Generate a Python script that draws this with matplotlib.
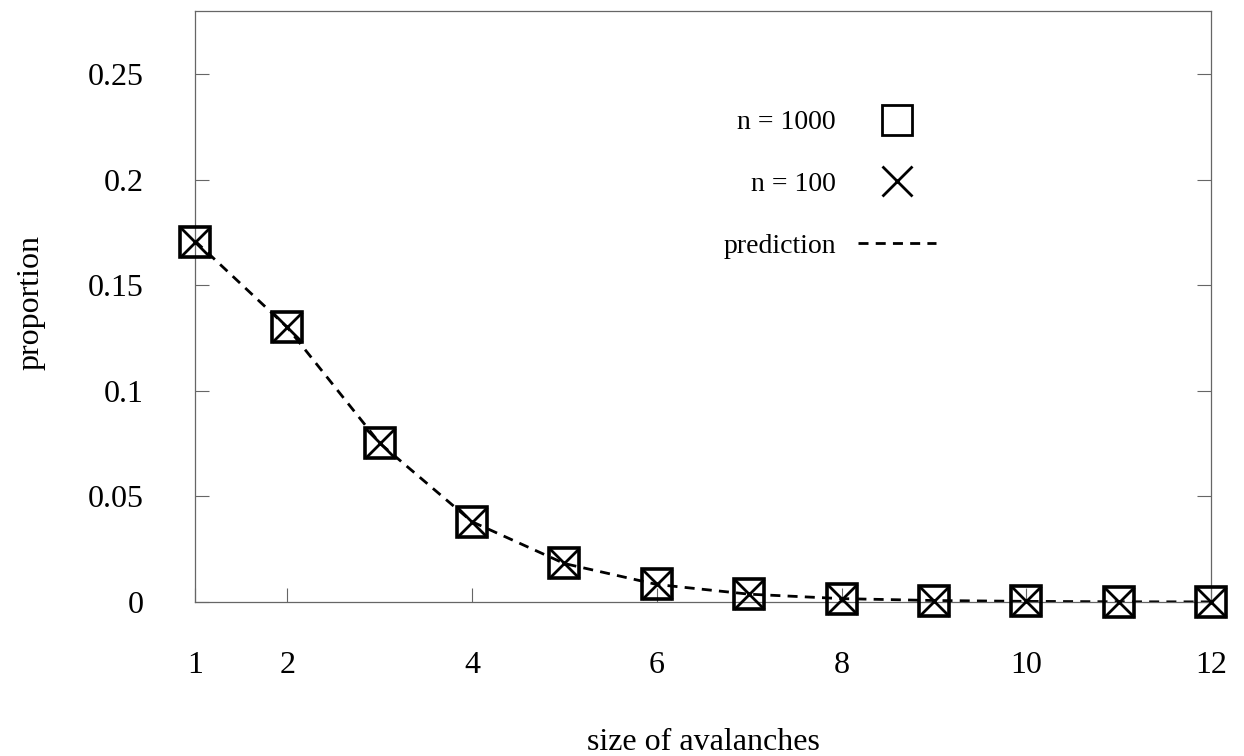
import matplotlib
matplotlib.use("Agg")
import matplotlib.pyplot as plt
from matplotlib.lines import Line2D

plt.rcParams['font.family'] = ['Liberation Serif', 'DejaVu Serif']

# avalanche sizes and measured proportions
sizes = [1, 2, 3, 4, 5, 6, 7, 8, 9, 10, 11, 12]
n1000 = [0.1706, 0.1302, 0.0754, 0.0381, 0.0185, 0.0085, 0.0038, 0.0016, 0.0007, 0.0003, 0.0001, 0.00005]
n100 = [0.1706, 0.1302, 0.0752, 0.0380, 0.0184, 0.0084, 0.0037, 0.0016, 0.0007, 0.0003, 0.0001, 0.00005]
prediction = [0.1710, 0.1300, 0.0752, 0.0380, 0.0182, 0.0083, 0.0037, 0.0016, 0.0007, 0.0003, 0.0001, 0.00005]

xticks = [1, 2, 4, 6, 8, 10, 12]
yticks = [0, 0.05, 0.1, 0.15, 0.2, 0.25]
ytick_labels = ["0", "0.05", "0.1", "0.15", "0.2", "0.25"]

grey = "#666666"

fig = plt.figure(figsize=(12.44, 7.56), dpi=100)
ax = fig.add_axes([195 / 1244, 1 - 602 / 756, (1211 - 195) / 1244, (602 - 10.7) / 756])

ax.plot(sizes, prediction, color="black", lw=2.0, dashes=(3.6, 2.6), zorder=2)
ax.plot(sizes, n1000, ls="none", marker="s", ms=22, mfc="none", mec="black", mew=2.6,
        clip_on=False, zorder=3)
ax.plot(sizes, n100, ls="none", marker="x", ms=22, mec="black", mew=2.0,
        clip_on=False, zorder=3)

ax.set_xlim(1, 12)
ax.set_ylim(0, 0.28)

ax.set_xticks(xticks)
ax.set_yticks(yticks)
ax.set_yticklabels(ytick_labels)
ax.tick_params(direction="in", length=10, width=0.8, color=grey, labelsize=23)
ax.tick_params(axis="y", right=True, pad=37)
ax.tick_params(axis="x", top=False, pad=35)

for s in ax.spines.values():
    s.set_color(grey)
    s.set_linewidth(0.9)

fig.text(31 / 1244, 1 - 303 / 756, "proportion", rotation=90, ha="center", va="center", fontsize=23)
fig.text(703 / 1244, 1 - 750 / 756, "size of avalanches", ha="center", va="baseline", fontsize=23)

handles = [
    Line2D([], [], ls="none", marker="s", ms=22, mfc="none", mec="black", mew=2.0),
    Line2D([], [], ls="none", marker="x", ms=22, mec="black", mew=2.0),
    Line2D([], [], color="black", lw=2.0, dashes=(3.6, 2.6)),
]
ax.legend(handles, ["n = 1000", "n = 100", "prediction"], markerfirst=False, frameon=False,
          loc="upper right", bbox_to_anchor=(936 / 1244, 1 - 110 / 756),
          bbox_transform=fig.transFigure, borderpad=0, borderaxespad=0,
          fontsize=20, handlelength=2.8, handletextpad=0.8, labelspacing=1.3)

fig.savefig("out.png", dpi=100)
